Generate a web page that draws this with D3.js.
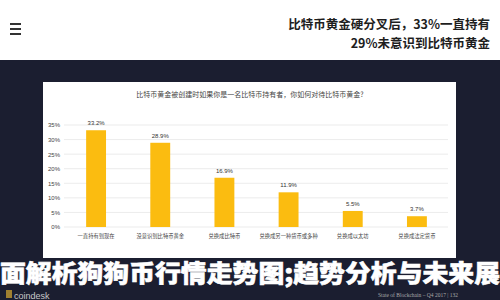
<!DOCTYPE html>
<html><head><meta charset="utf-8">
<script src="https://cdn.jsdelivr.net/npm/d3@7"></script>
<style>html,body{margin:0;padding:0;background:#1b1e30;}svg{display:block;}</style>
</head><body>
<script>
const categories = ["一直持有到现在","没意识到比特币黄金","兑换成比特币","兑换成另一种货币或多种","兑换成以太坊","兑换成法定货币"];
const values = [33.2, 28.9, 16.9, 11.9, 5.5, 3.7];
const yTicks = [0,5,10,15,20,25,30,35];
const chartTitle = "比特币黄金被创建时如果你是一名比特币持有者，你如何对待比特币黄金?";
const headerLines = ["比特币黄金硬分叉后，33%一直持有","29%未意识到比特币黄金"];
const overlayText = "面解析狗狗币行情走势图;趋势分析与未来展";

const W=500,H=300;
const svg=d3.select("body").append("svg").attr("width",W).attr("height",H);
const font="'Noto Sans CJK SC','Noto Sans',sans-serif";

// background
svg.append("rect").attr("width",W).attr("height",H).attr("fill","#1b1e30");
svg.append("rect").attr("width",W).attr("height",60).attr("fill","#ffffff");
// hamburger
[24,29,34].forEach(y=>svg.append("rect").attr("x",10).attr("y",y-1).attr("width",11).attr("height",2).attr("fill","#333"));
headerLines.forEach((t,i)=>svg.append("text").attr("x",490).attr("y",29+i*19).attr("text-anchor","end")
  .attr("font-family",font).attr("font-weight","bold").attr("font-size",12.5).attr("fill","#1e1e1e").text(t));

// chart panel
svg.append("rect").attr("x",43).attr("y",82).attr("width",413).attr("height",176).attr("fill","#ffffff");
svg.append("text").attr("x",250).attr("y",96.5).attr("text-anchor","middle").attr("font-family",font)
  .attr("font-size",7).attr("fill","#444").text(chartTitle);

const x=d3.scaleBand().domain(categories).range([64,449]).paddingInner(0.69).paddingOuter(0.345);
const y=d3.scaleLinear().domain([0,35]).range([227,125]);

const g=svg.append("g");
g.selectAll("line.grid").data(yTicks).join("line").attr("x1",64).attr("x2",448)
  .attr("y1",d=>y(d)).attr("y2",d=>y(d)).attr("stroke","#e3e3e3").attr("stroke-width",0.7);

const yAxis=d3.axisLeft(y).tickValues(yTicks).tickFormat(d=>d+"%").tickSize(0).tickPadding(0);
const ya=svg.append("g").attr("transform","translate(60,0)").call(yAxis);
ya.select(".domain").remove();
ya.selectAll("text").attr("font-family","'Liberation Sans',Arial,sans-serif").attr("font-size",6).attr("fill","#444");

g.selectAll("rect.bar").data(values).join("rect").attr("x",(d,i)=>x(categories[i])).attr("width",x.bandwidth())
  .attr("y",d=>y(d)).attr("height",d=>y(0)-y(d)).attr("fill","#fbbc10");
g.selectAll("text.val").data(values).join("text").attr("x",(d,i)=>x(categories[i])+x.bandwidth()/2)
  .attr("y",d=>y(d)-5).attr("text-anchor","middle").attr("font-family","'Liberation Sans',Arial,sans-serif")
  .attr("font-size",6).attr("fill","#333").text(d=>d.toFixed(1)+"%");

const xAxis=d3.axisBottom(x).tickSize(0).tickPadding(0);
const xa=svg.append("g").attr("transform","translate(0,234)").call(xAxis);
xa.select(".domain").remove();
xa.selectAll("text").attr("font-family",font).attr("font-size",5.3).attr("fill","#444");

// overlay text
svg.append("text").attr("x",0).attr("y",282).attr("textLength",500).attr("lengthAdjust","spacingAndGlyphs")
  .attr("font-family",font).attr("font-weight","900").attr("font-size",24).attr("fill","#ffffff")
  .attr("stroke","#ffffff").attr("stroke-width",0.6).text(overlayText);

// footer
svg.append("rect").attr("x",6).attr("y",290).attr("width",6).attr("height",8).attr("fill","#a08030");
svg.append("text").attr("x",14).attr("y",299).attr("font-family","'Liberation Sans',Arial,sans-serif")
  .attr("font-size",9).attr("fill","#c8c8c8").text("coindesk");
svg.append("text").attr("x",458).attr("y",297).attr("text-anchor","end").attr("font-family","'Liberation Serif',serif")
  .attr("font-size",5.5).attr("fill","#aaa").text("State of Blockchain – Q4 2017   |   132");
</script>
</body></html>
